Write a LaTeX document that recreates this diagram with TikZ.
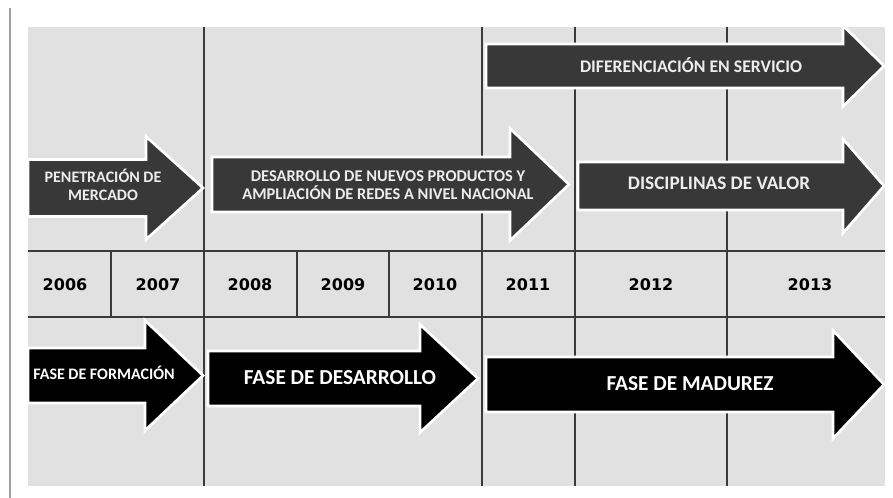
\documentclass[tikz,border=0pt]{standalone}
\usepackage{fontspec}
\setmainfont{Carlito}
\newfontfamily\yearfont{DejaVu Sans}
\usetikzlibrary{calc}
\definecolor{panelgray}{HTML}{E1E1E1}
\definecolor{arrowgray}{HTML}{383838}
\definecolor{gridline}{HTML}{3A3A3A}
\definecolor{framegray}{HTML}{A0A0A0}
\definecolor{uplabel}{HTML}{EDEDED}
% left x : centre y : half body ; head x : half head : tip x
\def\phasearrow[#1](#2:#3:#4)(#5:#6:#7){\draw[#1] (#2,{#3-#4}) -- (#5,{#3-#4}) -- (#5,{#3-#6}) -- (#7,#3) -- (#5,{#3+#6}) -- (#5,{#3+#4}) -- (#2,{#3+#4}) -- cycle;}

\begin{document}
\begin{tikzpicture}[x=0.75pt,y=-0.75pt,
	uparrow/.style={fill=arrowgray, draw=white, line width=2pt, line join=miter},
	lowarrow/.style={fill=black, draw=white, line width=2pt, line join=miter},
	uptext/.style={text=uplabel, font=\bfseries, align=center, inner sep=0pt},
	lowtext/.style={text=white, font=\bfseries, align=center, inner sep=0pt},
	yeartext/.style={font=\yearfont\bfseries\fontsize{12}{14}\selectfont, inner sep=0pt}]
		%%%%% FRAME %%%%%
		\useasboundingbox (0,0) rectangle (893,498);
		\fill[white] (0,0) rectangle (893,498);
		\draw[line width=1.5pt, color=framegray] (10,8) -- (10,498);
		\fill[panelgray] (28,27) rectangle (885,486);
		
		%%%%% GRID %%%%%
		\foreach \x in {204,482,575,727}
			\draw[line width=1pt, color=gridline] (\x,27) -- (\x,486);
		\foreach \x in {111,297,389}
			\draw[line width=1pt, color=gridline] (\x,251) -- (\x,317);
		\draw[line width=1pt, color=gridline] (28,251) -- (885,251);
		\draw[line width=1pt, color=gridline] (28,317) -- (885,317);
		
		\node[yeartext] (y2006) at (65,285) {2006};
		\node[yeartext] (y2007) at (158,285) {2007};
		\node[yeartext] (y2008) at (250,285) {2008};
		\node[yeartext] (y2009) at (343,285) {2009};
		\node[yeartext] (y2010) at (435,285) {2010};
		\node[yeartext] (y2011) at (528,285) {2011};
		\node[yeartext] (y2012) at (651,285) {2012};
		\node[yeartext] (y2013) at (810,285) {2013};
		
		%%%%% STRATEGIES %%%%%
		\phasearrow[uparrow](28:188:28.5)(146:51.5:203);
		\phasearrow[uparrow](212:184.5:27.5)(510:56:569);
		\phasearrow[uparrow](486:66:22)(843:40.5:884);
		\phasearrow[uparrow](578:186:24)(843:47:884);
		
		\node[uptext, font=\bfseries\fontsize{12}{13.5}\selectfont] (mercado) at (103,185) {PENETRACIÓN DE\\MERCADO};
		\node[uptext, font=\bfseries\fontsize{12.3}{13.5}\selectfont] (nuevos) at (388,185) {DESARROLLO DE NUEVOS PRODUCTOS Y\\AMPLIACIÓN DE REDES A NIVEL NACIONAL};
		\node[uptext, font=\bfseries\fontsize{13.3}{15}\selectfont] (servicio) at (691,65) {DIFERENCIACIÓN EN SERVICIO};
		\node[uptext, font=\bfseries\fontsize{14.4}{16}\selectfont] (valor) at (719,183) {DISCIPLINAS DE VALOR};
		
		%%%%% PHASES %%%%%
		\phasearrow[lowarrow](28:375.5:27.5)(145:55:203);
		\phasearrow[lowarrow](208:378.5:27.5)(420:54:478);
		\phasearrow[lowarrow](486:384.5:27.5)(833:54:884);
		
		\node[lowtext, font=\bfseries\fontsize{12}{14}\selectfont] (formacion) at (104,373) {FASE DE FORMACIÓN};
		\node[lowtext, font=\bfseries\fontsize{16}{18}\selectfont] (desarrollo) at (340,378) {FASE DE DESARROLLO};
		\node[lowtext, font=\bfseries\fontsize{16}{18}\selectfont] (madurez) at (690,384) {FASE DE MADUREZ};
		
		%%%%% END %%%%%
	\end{tikzpicture}
\end{document}
